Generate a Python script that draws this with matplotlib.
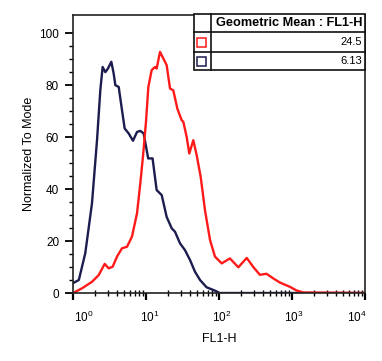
import numpy as np
import matplotlib
matplotlib.use('Agg')
import matplotlib.pyplot as plt
from matplotlib.patches import Rectangle
from matplotlib.transforms import ScaledTranslation

plt.rcParams['font.family'] = ['Liberation Sans', 'DejaVu Sans']
plt.rcParams['mathtext.fontset'] = 'custom'
plt.rcParams['mathtext.rm'] = 'Liberation Sans'

# log10 of FL1-H and normalized counts
blue_logx = [0.0, 0.08, 0.168, 0.26, 0.329, 0.374, 0.406, 0.443, 0.479, 0.525, 0.557,
             0.58, 0.626, 0.671, 0.708, 0.763, 0.822, 0.877, 0.922, 0.968, 1.03,
             1.09, 1.146, 1.215, 1.283, 1.352, 1.397, 1.466, 1.534, 1.603, 1.671,
             1.74, 1.83, 1.945, 2.01, 4.0]
blue_y = [3.8, 5.0, 15.3, 34.5, 58.8, 78, 87, 85, 86.4, 89, 84.5,
          80, 79.3, 70.4, 63.3, 61.4, 58.6, 62, 62.4, 61.4, 51.8,
          51.8, 39.6, 37.7, 29.3, 24.9, 23.6, 19.1, 16.5, 12.7, 8.2,
          5, 2.2, 0.9, 0, 0]

red_logx = [0.0, 0.123, 0.26, 0.352, 0.434, 0.489, 0.543, 0.603, 0.671, 0.74, 0.808,
            0.877, 0.922, 0.96, 1.0, 1.032, 1.078, 1.123, 1.146, 1.192, 1.237, 1.283,
            1.329, 1.374, 1.429, 1.489, 1.511, 1.557, 1.593, 1.648, 1.694, 1.749,
            1.808, 1.877, 1.945, 2.037, 2.15, 2.265, 2.38, 2.47, 2.56, 2.65, 2.75,
            2.836, 2.97, 3.06, 3.155, 4.0]
red_y = [0, 1.8, 4.3, 6.9, 11.2, 9.5, 10.1, 14, 17.2, 17.8, 21.7,
         30.7, 42.2, 53, 66, 79.3, 85.8, 87, 86.4, 92.8, 90.3, 87.7,
         78.7, 78, 71, 66.5, 65.9, 60.1, 53.7, 58.8, 53.1, 44.7,
         31.9, 20.4, 14, 11.4, 13.3, 9.9, 13.5, 10, 7, 7.4, 5.5,
         4, 2.4, 1, 0.2, 0]

table_header = 'Geometric Mean : FL1-H'
table_values = ['24.5', '6.13']
red = '#ff1a1a'
navy = '#1c1c4e'
series_colors = [red, navy]

W, H = 382, 361
fig = plt.figure(figsize=(W / 100, H / 100), dpi=100)
ax = fig.add_axes([73 / W, (H - 293) / H, 292 / W, 278 / H])

ax.plot(10 ** np.array(blue_logx), blue_y, color=navy, lw=1.7, solid_joinstyle='round')
ax.plot(10 ** np.array(red_logx), red_y, color=red, lw=1.7, solid_joinstyle='round')

ax.set_xscale('log')
ax.set_xlim(1, 1e4)
ax.set_ylim(0, 107)
for s in ax.spines.values():
    s.set_linewidth(1.2)
    s.set_color('#222222')

ax.set_yticks([0, 20, 40, 60, 80, 100])
ax.set_yticks(np.arange(0, 105, 5), minor=True)
ax.tick_params(axis='y', which='major', direction='out', length=6, width=1.3, pad=4, labelsize=8.5)
ax.tick_params(axis='y', which='minor', direction='out', length=3, width=1)

ax.set_xticks([1, 10, 100, 1000, 10000])
ax.set_xticklabels([r'$\mathregular{10^{%d}}$' % k for k in range(5)])
ax.tick_params(axis='x', which='major', direction='out', length=5, width=1.6, pad=7, labelsize=8.5)
ax.tick_params(axis='x', which='minor', direction='inout', length=4, width=1)
shifts = [11, 4, 3, 2, -8]
for lab, dx in zip(ax.get_xticklabels(), shifts):
    lab.set_transform(lab.get_transform() + ScaledTranslation(dx / 100, 0, fig.dpi_scale_trans))

ax.set_xlabel('FL1-H', fontsize=9, labelpad=6)
ax.set_ylabel('Normalized To Mode', fontsize=9, labelpad=3)


# legend table drawn in pixel coordinates
def px(x, y):
    return x / W, (H - y) / H


rows = [14, 32, 52, 70]
x0, xdiv, x1 = 194, 211, 365
fig.add_artist(Rectangle(px(x0, rows[-1]), (x1 - x0) / W, (rows[-1] - rows[0]) / H,
                         transform=fig.transFigure, facecolor='white', edgecolor='#111111', lw=1.2))
for r in rows[1:-1]:
    fig.add_artist(plt.Line2D([x0 / W, x1 / W], [(H - r) / H] * 2, transform=fig.transFigure,
                              color='#111111', lw=1.2))
fig.add_artist(plt.Line2D([xdiv / W] * 2, [(H - rows[0]) / H, (H - rows[-1]) / H],
                          transform=fig.transFigure, color='#111111', lw=1.2))
fig.text(*px(363, (rows[0] + rows[1]) / 2), table_header, ha='right', va='center',
         fontsize=9.2, fontweight='bold')
for i, (val, c) in enumerate(zip(table_values, series_colors)):
    yc = (rows[i + 1] + rows[i + 2]) / 2
    fig.text(*px(362, yc), val, ha='right', va='center', fontsize=8)
    fig.add_artist(Rectangle(px(197, yc + 4.5), 9 / W, 9 / H, transform=fig.transFigure,
                             facecolor='white', edgecolor=c, lw=1.1))

fig.savefig('out.png', dpi=100)
